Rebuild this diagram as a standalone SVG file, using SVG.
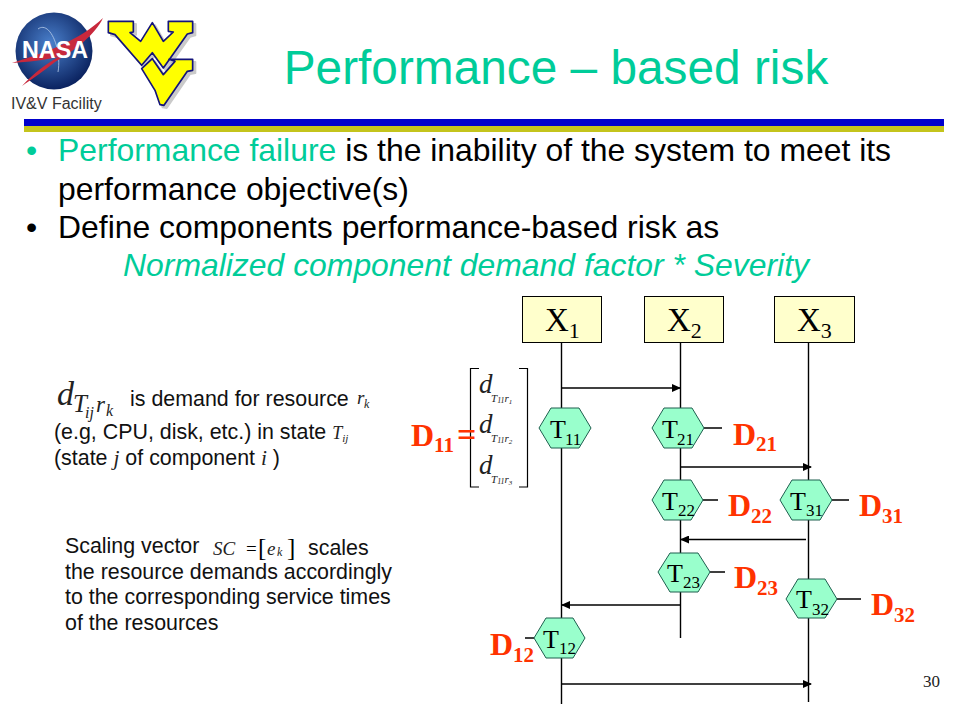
<svg xmlns="http://www.w3.org/2000/svg" width="960" height="720" viewBox="0 0 960 720">
<style>
.s{font-family:"Liberation Sans",Arial,sans-serif}
.r{font-family:"Liberation Serif","Times New Roman",serif}
.b{font-size:31.9px;fill:#000}
.n{font-size:21.4px;fill:#111}
.box{fill:#ffffcc;stroke:#000;stroke-width:1}
.hex{fill:#99ffcc;stroke:#1f5f4f;stroke-width:1}
.ln{stroke:#000;stroke-width:1.4;fill:none}
.d{font-family:"Liberation Serif","Times New Roman",serif;font-weight:bold;fill:#ff3300;font-size:32px}
.ds{font-size:21px}
.tl{font-size:26px;fill:#000}
.ts{font-size:17px}
.xl{font-size:33px;fill:#000}
.xs{font-size:22px}
.m{font-family:"Liberation Serif","Times New Roman",serif;font-style:italic;fill:#222}
.wv{fill:#ffff00;stroke:#14147a;stroke-width:5;stroke-linejoin:round}
.wvs{fill:#b4b4b4;stroke:#b4b4b4;stroke-width:6;stroke-linejoin:round;opacity:.7}
</style>
<defs>
<marker id="a" markerWidth="9" markerHeight="8" refX="8" refY="4" orient="auto" markerUnits="userSpaceOnUse"><path d="M0 0L9 4L0 8Z" fill="#000"/></marker>
<radialGradient id="ng" cx="45%" cy="40%" r="60%"><stop offset="0" stop-color="#4a80cc"/><stop offset="1" stop-color="#0b2360"/></radialGradient>
</defs>
<rect width="960" height="720" fill="#fff"/>
<g id="logo-nasa">
<circle cx="54" cy="51" r="38.5" fill="url(#ng)"/>
<path d="M38 29C50 20 62 50 58 72" fill="none" stroke="#b8cce8" stroke-width="0.8"/>
<path d="M12 63C45 53 80 40 103 18C95 35 75 50 55 62C45 70 32 79 22 86C35 72 45 65 58 57C45 60 28 62 12 63Z" fill="#c8283c"/>
<text x="22" y="58" class="s" font-size="23" font-weight="bold" fill="#fff" textLength="66" lengthAdjust="spacingAndGlyphs">NASA</text>
<text x="11" y="109" class="s" font-size="16" fill="#333">IV&amp;V Facility</text>
</g>
<g id="logo-wv" transform="translate(100 12) scale(.3333)">
<path d="M25 28H100V60L90 62L122 88L157 32L190 88L220 60L205 58V28H278V62L262 66L190 168L157 122L125 160L45 68L25 62Z" class="wvs" transform="translate(8 8)"/>
<path d="M125 170L157 140L190 188L225 148L207 142H278V175L262 178L192 280L180 278L165 235Z" class="wvs" transform="translate(8 8)"/>
<path d="M25 28H100V60L90 62L122 88L157 32L190 88L220 60L205 58V28H278V62L262 66L190 168L157 122L125 160L45 68L25 62Z" class="wv"/>
<path d="M125 170L157 140L190 188L225 148L207 142H278V175L262 178L192 280L180 278L165 235Z" class="wv"/>
</g>
<g id="title">
<text x="556" y="84" text-anchor="middle" class="s" font-size="47.8" style="fill:#00cc99">Performance – based risk</text>
<rect x="24" y="119" width="920" height="7" fill="#0000cc"/>
<rect x="24" y="126" width="920" height="6" fill="#c4c41c"/>
</g>
<g id="bullets" class="s">
<text x="26" y="161" class="b" style="fill:#00cc99">•</text>
<text x="58" y="161" class="b"><tspan style="fill:#00cc99">Performance failure</tspan> is the inability of the system to meet its</text>
<text x="58" y="200" class="b">performance objective(s)</text>
<text x="26" y="238" class="b">•</text>
<text x="58" y="238" class="b">Define components performance-based risk as</text>
<text x="123" y="276" class="b" font-style="italic" style="fill:#00cc99">Normalized component demand factor * Severity</text>
</g>
<g id="note-demand">
<text x="57" y="405" class="m" font-size="34">d<tspan x="73" y="412" font-size="25">T</tspan><tspan x="85" y="418" font-size="16">ij</tspan><tspan x="96" y="412" font-size="23">r</tspan><tspan x="106" y="416" font-size="16">k</tspan></text>
<text x="130" y="406" class="s n">is demand for resource</text>
<text x="357" y="404" class="m" font-size="19">r<tspan x="364" y="408" font-size="12">k</tspan></text>
<text x="54" y="439" class="s n">(e.g, CPU, disk, etc.) in state <tspan class="m" font-size="18">T</tspan><tspan class="m" font-size="11" dy="3">ij</tspan></text>
<text x="54" y="465" class="s n">(state <tspan class="m">j</tspan> of component <tspan class="m">i</tspan> )</text>
</g>
<g id="note-scaling" class="s">
<text x="65" y="553" class="n">Scaling vector</text>
<text x="213" y="555" class="m" font-size="19">SC</text>
<text x="246" y="555" class="r" font-size="19">=</text>
<text x="258" y="556" class="r" font-size="25">[</text>
<text x="267" y="555" class="m" font-size="19">e</text>
<text x="277" y="556" class="m" font-size="12">k</text>
<text x="287" y="556" class="r" font-size="25">]</text>
<text x="308" y="555" class="n">scales</text>
<text x="65" y="579" class="n">the resource demands accordingly</text>
<text x="65" y="604" class="n">to the corresponding service times</text>
<text x="65" y="630" class="n">of the resources</text>
</g>
<g id="matrix">
<path class="ln" d="M479 368.5H470.5V487H479M519 368.5H527.5V487H519" style="stroke-width:1.2"/>
<text x="479" y="393" class="m" font-size="27">d<tspan x="491" y="402" font-size="11">T</tspan><tspan font-size="8" dy="1">11</tspan><tspan font-size="11" dy="-1">r</tspan><tspan font-size="7" dy="2">1</tspan></text>
<text x="479" y="433" class="m" font-size="27">d<tspan x="491" y="442" font-size="11">T</tspan><tspan font-size="8" dy="1">11</tspan><tspan font-size="11" dy="-1">r</tspan><tspan font-size="7" dy="2">2</tspan></text>
<text x="479" y="474" class="m" font-size="27">d<tspan x="491" y="483" font-size="11">T</tspan><tspan font-size="8" dy="1">11</tspan><tspan font-size="11" dy="-1">r</tspan><tspan font-size="7" dy="2">3</tspan></text>
</g>
<g id="connectors" class="ln">
<path d="M561.5 342V704"/>
<path d="M680.5 342V638"/>
<path d="M808.5 342V702"/>
<path d="M562 388H680" marker-end="url(#a)"/>
<path d="M681 467H811" marker-end="url(#a)"/>
<path d="M806 539.5H681" marker-end="url(#a)"/>
<path d="M680 605H562" marker-end="url(#a)"/>
<path d="M562 684H811" marker-end="url(#a)"/>
<path d="M704 428H722M703 500H718M832 500H849M710 572H725M837 599H861M525 638H534"/>
</g>
<g id="X1"><rect class="box" x="522.5" y="296.5" width="79" height="46"/><text x="545" y="331" class="r xl">X<tspan class="xs" dy="7">1</tspan></text></g>
<g id="X2"><rect class="box" x="644.5" y="296.5" width="79" height="46"/><text x="667" y="331" class="r xl">X<tspan class="xs" dy="7">2</tspan></text></g>
<g id="X3"><rect class="box" x="774.5" y="296.5" width="80" height="46"/><text x="797" y="331" class="r xl">X<tspan class="xs" dy="7">3</tspan></text></g>
<g id="T11"><path class="hex" d="M539 428L551 408H579L591 428L579 448H551Z"/><text x="550" y="438" class="r tl">T<tspan class="ts" dy="7" x="565">11</tspan></text></g>
<g id="T21"><path class="hex" d="M652 428L664 408H692L704 428L692 448H664Z"/><text x="662" y="438" class="r tl">T<tspan class="ts" dy="7" x="677">21</tspan></text></g>
<g id="T22"><path class="hex" d="M652 500L664 480H691L703 500L691 520H664Z"/><text x="662" y="510" class="r tl">T<tspan class="ts" dy="6" x="678">22</tspan></text></g>
<g id="T31"><path class="hex" d="M780 500L792 480H820L832 500L820 520H792Z"/><text x="790" y="510" class="r tl">T<tspan class="ts" dy="6" x="806">31</tspan></text></g>
<g id="T23"><path class="hex" d="M658 572L670 553H698L710 572L698 592H670Z"/><text x="667" y="582" class="r tl">T<tspan class="ts" dy="6" x="683">23</tspan></text></g>
<g id="T32"><path class="hex" d="M786 599L798 579H825L837 599L825 618H798Z"/><text x="796" y="608" class="r tl">T<tspan class="ts" dy="7" x="812">32</tspan></text></g>
<g id="T12"><path class="hex" d="M534 638L546 618H573L585 638L573 658H546Z"/><text x="543" y="648" class="r tl">T<tspan class="ts" dy="6" x="559">12</tspan></text></g>
<g id="labels">
<text x="411" y="446" class="d">D<tspan class="ds" dy="6">11</tspan><tspan dy="-6" x="457" font-size="34">=</tspan></text>
<text x="733" y="445" class="d">D<tspan class="ds" dy="6">21</tspan></text>
<text x="728" y="516" class="d">D<tspan class="ds" dy="7">22</tspan></text>
<text x="859" y="516" class="d">D<tspan class="ds" dy="7">31</tspan></text>
<text x="734" y="588" class="d">D<tspan class="ds" dy="7">23</tspan></text>
<text x="871" y="615" class="d">D<tspan class="ds" dy="7">32</tspan></text>
<text x="490" y="655" class="d">D<tspan class="ds" dy="7">12</tspan></text>
</g>
<text id="page" x="923" y="687" class="r" font-size="17" fill="#222">30</text>
</svg>
